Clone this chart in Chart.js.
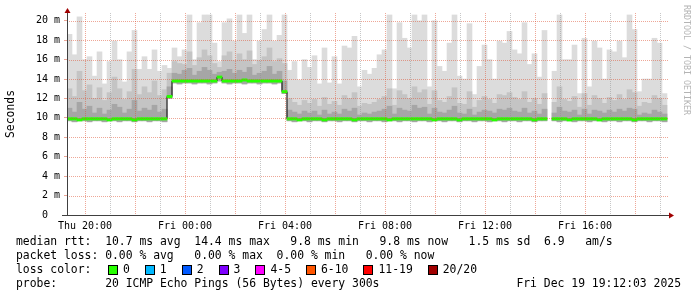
<!DOCTYPE html>
<html>
<head>
<meta charset="utf-8">
<script src="https://cdn.jsdelivr.net/npm/chart.js@4.4.1/dist/chart.umd.min.js"></script>
<style>
  body { margin: 0; background: #fff; }
  #wrap { position: relative; width: 697px; height: 297px; overflow: hidden; font-family: 'DejaVu Sans Mono', monospace; color: #000; }
  #graph { position: absolute; left: 0; top: 0; }
  .leg { position: absolute; font-size: 11.4px; line-height: 14px; white-space: pre; }
  .box { position: absolute; width: 8px; height: 8px; border: 1px solid #000; }
  .wm { position: absolute; left: 682px; top: 5px; writing-mode: vertical-rl; font-size: 8.3px; line-height: 9px; color: #b4b4b4; white-space: pre; }
</style>
</head>
<body>
<div id="wrap">
  <canvas id="graph" width="697" height="297"></canvas>
  <div class="wm">RRDTOOL / TOBI OETIKER</div>
  <div class="leg" style="left:16px;top:234px">median rtt:  10.7 ms avg  14.4 ms max   9.8 ms min   9.8 ms now   1.5 ms sd  6.9   am/s</div>
  <div class="leg" style="left:16px;top:248px">packet loss: 0.00 % avg   0.00 % max  0.00 % min   0.00 % now</div>
  <div class="leg" style="left:16px;top:262px">loss color:</div>
  <div id="losscolors"></div>
  <div class="leg" style="left:16px;top:276px">probe:       20 ICMP Echo Pings (56 Bytes) every 300s</div>
  <div class="leg" style="right:16px;top:276px">Fri Dec 19 19:12:03 2025</div>
</div>
<script>
// 24h of smokeping data, one bin every 12 minutes, values in ms
var startHour = 19.28;   // hours since Thu 00:00
var stepHours = 0.2;

var maxRtt = [
  18.6,16.5,20.4,16.0,16.3,14.3,16.8,13.5,15.8,17.9,16.0,13.7,16.8,19.0,15.0,16.3,15.0,17.0,14.8,15.4,
  15.1,
  17.2,16.3,17.0,20.6,16.0,19.8,20.6,20.6,17.7,15.8,19.8,20.2,17.9,20.6,18.7,20.6,16.0,17.9,19.1,20.6,17.9,18.5,
  20.6,
  14.9,15.8,13.9,16.0,
  15.2,16.4,13.5,17.2,13.6,16.3,13.5,17.4,17.2,18.4,13.2,14.9,14.5,15.1,16.5,17.0,20.6,13.0,19.8,18.2,17.2,20.6,20.0,20.6,
  13.2,20.0,15.3,14.8,17.7,20.6,14.3,14.0,19.7,12.4,15.3,17.5,16.0,14.0,17.9,17.7,18.9,17.0,16.6,19.8,15.5,16.6,14.2,19.0,
  null,
  14.8,20.6,16.0,16.0,17.5,12.5,18.2,13.2,17.9,17.2,14.0,17.0,16.8,17.9,16.2,20.6,19.1,12.7,14.0,14.0,18.2,17.7,12.5
];

var upperRtt = [
  13.0,12.2,14.8,12.8,13.4,12.0,13.1,11.8,12.6,14.2,13.0,11.9,12.7,15.0,12.4,13.2,12.6,13.8,12.3,12.9,
  14.6,
  15.8,15.6,15.5,16.8,15.4,16.2,17.0,16.4,15.6,15.2,16.4,16.8,15.9,16.6,16.0,16.9,15.5,15.9,16.3,17.2,15.8,16.1,
  15.6,
  12.0,11.6,11.3,11.8,
  11.5,11.9,11.2,12.1,11.4,11.7,11.3,12.3,12.0,12.6,11.2,11.5,11.4,11.6,11.9,12.2,13.0,11.3,12.8,12.4,12.0,13.2,12.6,12.9,
  11.4,12.8,11.8,11.6,12.2,13.1,11.5,11.4,12.7,11.1,11.8,12.2,11.9,11.5,12.4,12.3,12.6,12.1,11.9,12.7,11.6,12.0,11.4,12.5,
  null,
  11.6,13.2,11.9,11.7,12.2,11.1,12.5,11.3,12.3,12.0,11.5,12.1,11.8,12.4,11.9,12.9,12.6,11.2,11.6,11.5,12.3,12.0,11.3
];

var lowerRtt = [
  11.0,10.6,11.6,10.9,11.2,10.5,11.0,10.4,10.8,11.4,11.1,10.5,10.9,11.8,10.7,11.0,10.8,11.3,10.6,10.9,
  13.2,
  14.6,14.5,14.9,15.1,14.4,14.8,15.2,14.9,14.5,14.7,14.8,15.0,14.6,14.9,14.7,15.2,14.4,14.6,14.8,15.3,14.5,14.8,
  13.8,
  10.8,10.6,10.4,10.7,
  10.5,10.7,10.3,10.8,10.4,10.6,10.4,10.9,10.7,11.0,10.3,10.5,10.4,10.6,10.7,10.9,11.2,10.4,11.0,10.8,10.7,11.3,11.0,11.1,
  10.4,11.0,10.6,10.5,10.8,11.2,10.5,10.4,10.9,10.3,10.6,10.8,10.7,10.5,10.9,10.8,11.0,10.7,10.6,11.0,10.5,10.7,10.4,10.9,
  null,
  10.5,11.1,10.7,10.6,10.8,10.3,10.9,10.4,10.8,10.7,10.5,10.8,10.6,10.9,10.7,11.0,10.9,10.3,10.5,10.4,10.8,10.6,10.4
];

var minRtt = [
  9.7,9.6,9.7,9.7,9.6,9.7,9.7,9.6,9.7,9.7,9.6,9.7,9.7,9.6,9.7,9.7,9.6,9.7,9.7,9.6,
  12.0,
  13.6,13.5,13.6,13.6,13.5,13.6,13.6,13.5,13.6,13.8,13.6,13.5,13.6,13.6,13.5,13.6,13.6,13.5,13.6,13.6,13.5,13.6,
  12.5,
  9.7,9.6,9.7,9.7,
  9.6,9.7,9.7,9.6,9.7,9.7,9.6,9.7,9.7,9.6,9.7,9.7,9.6,9.7,9.7,9.6,9.7,9.7,9.6,9.7,9.7,9.6,9.7,9.7,
  9.6,9.7,9.7,9.6,9.7,9.7,9.6,9.7,9.7,9.6,9.7,9.7,9.6,9.7,9.7,9.6,9.7,9.7,9.6,9.7,9.7,9.6,9.7,9.7,
  null,
  9.7,9.6,9.7,9.7,9.6,9.7,9.7,9.6,9.7,9.7,9.6,9.7,9.7,9.6,9.7,9.7,9.6,9.7,9.7,9.6,9.7,9.7,9.6
];

var medianRtt = [
  9.9,9.9,9.8,9.9,9.9,9.9,9.9,9.9,9.8,9.9,9.9,9.9,9.9,9.8,9.9,9.9,9.9,9.9,9.9,9.9,
  12.2,
  13.8,13.8,13.8,13.8,13.8,13.8,13.8,13.8,13.8,14.2,13.8,13.8,13.8,13.8,13.9,13.8,13.8,13.8,13.8,13.8,13.8,13.8,
  12.7,
  9.9,9.9,9.8,9.9,
  9.9,9.9,9.9,9.8,9.9,9.9,9.9,9.9,9.9,9.8,9.9,9.9,9.9,9.9,9.9,9.9,9.8,9.9,9.9,9.9,9.9,9.9,9.9,9.9,
  9.9,9.8,9.9,9.9,9.9,9.9,9.8,9.9,9.9,9.9,9.9,9.9,9.9,9.8,9.9,9.9,9.9,9.9,9.9,9.9,9.9,9.8,9.9,9.9,
  null,
  9.9,9.9,9.9,9.8,9.9,9.9,9.9,9.9,9.9,9.8,9.9,9.9,9.9,9.9,9.9,9.9,9.8,9.9,9.9,9.9,9.9,9.9,9.9
];

var lossLabels = ['0', '1', '2', '3', '4-5', '6-10', '11-19', '20/20'];
var lossColors = ['#26ff00', '#00b8ff', '#0059ff', '#7e00ff', '#ff00ff', '#ff5500', '#ff0000', '#a10000'];

var times = maxRtt.map(function (v, i) { return startHour + stepHours * (i + 0.5); });

function band(lo, hi) {
  return times.map(function (t, i) {
    if (lo[i] == null || hi[i] == null) return {x: t, y: null};
    return {x: t, y: [lo[i], hi[i]]};
  });
}

// green median marker, ~2px thick
var medianBand = times.map(function (t, i) {
  if (medianRtt[i] == null) return {x: t, y: null};
  return {x: t, y: [medianRtt[i] - 0.12, medianRtt[i] + 0.12]};
});

function hourLabel(v) {
  if (v % 4 !== 0) return '';
  var day = v < 24 ? 'Thu' : 'Fri';
  var h = v % 24;
  return day + ' ' + (h < 10 ? '0' : '') + h + ':00';
}

var minorGrid = 'rgba(143,143,143,0.5)';
var majorGrid = 'rgba(222,80,48,0.5)';
var monoFont = "'DejaVu Sans Mono', monospace";

// rrdtool style dotted grid, drawn over the smoke
var dottedGrid = {
  id: 'dottedGrid',
  afterDatasetsDraw: function (chart) {
    var c = chart.ctx, a = chart.chartArea;
    var xs = chart.scales.x, ys = chart.scales.y;
    c.save();
    c.lineWidth = 1;
    c.setLineDash([1, 1]);
    xs.ticks.forEach(function (t) {
      var px = Math.round(xs.getPixelForValue(t.value)) + 0.5;
      c.strokeStyle = t.value % 2 === 0 ? majorGrid : minorGrid;
      c.beginPath(); c.moveTo(px, a.top); c.lineTo(px, a.bottom); c.stroke();
    });
    ys.ticks.forEach(function (t) {
      var py = Math.round(ys.getPixelForValue(t.value)) + 0.5;
      c.strokeStyle = t.value % 2 === 0 ? majorGrid : minorGrid;
      c.beginPath(); c.moveTo(a.left, py); c.lineTo(a.right, py); c.stroke();
    });
    c.restore();
  }
};

var axisArrows = {
  id: 'axisArrows',
  afterDraw: function (chart) {
    var ctx = chart.ctx, a = chart.chartArea;
    ctx.save();
    ctx.strokeStyle = '#404040';
    ctx.lineWidth = 1;
    ctx.beginPath();
    ctx.moveTo(a.left + 0.5, a.top);
    ctx.lineTo(a.left + 0.5, a.top - 3);
    ctx.moveTo(a.left - 5, a.bottom + 0.5);
    ctx.lineTo(a.left, a.bottom + 0.5);
    ctx.moveTo(a.right, a.bottom + 0.5);
    ctx.lineTo(a.right + 2, a.bottom + 0.5);
    ctx.stroke();
    ctx.fillStyle = '#a00000';
    ctx.beginPath();
    ctx.moveTo(a.left + 0.5, a.top - 5);
    ctx.lineTo(a.left - 2.5, a.top);
    ctx.lineTo(a.left + 3.5, a.top);
    ctx.closePath();
    ctx.fill();
    ctx.beginPath();
    ctx.moveTo(a.right + 6, a.bottom + 0.5);
    ctx.lineTo(a.right + 1, a.bottom - 2.5);
    ctx.lineTo(a.right + 1, a.bottom + 3.5);
    ctx.closePath();
    ctx.fill();
    ctx.restore();
  }
};

var barOpts = {type: 'bar', grouped: false, barPercentage: 1, categoryPercentage: 1, borderWidth: 0};

var ctx = document.getElementById('graph').getContext('2d');
var chart = new Chart(ctx, {
  type: 'bar',
  data: {
    datasets: [
      Object.assign({label: 'median', data: medianBand, backgroundColor: lossColors[0], order: 0}, barOpts),
      {type: 'line', label: 'median line', data: times.map(function (t, i) { return {x: t, y: medianRtt[i]}; }),
       borderColor: '#000', borderWidth: 1, pointRadius: 0, stepped: 'middle', order: 1},
      Object.assign({label: 'smoke low', data: band(minRtt, lowerRtt), backgroundColor: '#a6a6a6', order: 2}, barOpts),
      Object.assign({label: 'smoke mid', data: band(minRtt, upperRtt), backgroundColor: '#c4c4c4', order: 3}, barOpts),
      Object.assign({label: 'smoke max', data: band(minRtt, maxRtt), backgroundColor: '#dcdcdc', order: 4}, barOpts)
    ]
  },
  options: {
    responsive: false,
    animation: false,
    devicePixelRatio: 1,
    layout: {padding: {left: 0, top: 13, right: 29, bottom: 60}},
    plugins: {legend: {display: false}, tooltip: {enabled: false}},
    scales: {
      x: {
        type: 'linear', min: 19.28, max: 43.32, offset: false,
        afterFit: function (s) { s.height = 22; },
        ticks: {stepSize: 1, autoSkip: false, maxRotation: 0, includeBounds: false, padding: 5,
                color: '#000', font: {family: monoFont, size: 10}, callback: hourLabel},
        grid: {offset: false, drawOnChartArea: false, drawTicks: false},
        border: {color: '#404040', z: 2}
      },
      y: {
        min: 0, max: 20.8,
        afterFit: function (s) { s.width = 67; },
        ticks: {stepSize: 1, includeBounds: false, padding: 4, color: '#000', font: {family: monoFont, size: 10},
                callback: function (v) { return v % 2 !== 0 ? '' : (v === 0 ? '0  ' : v + ' m'); }},
        grid: {drawOnChartArea: false, tickLength: 3,
               tickColor: function (c) { return c.tick && c.tick.value % 2 === 0 ? majorGrid : minorGrid; }},
        border: {color: '#404040', z: 2},
        title: {display: true, text: 'Seconds', color: '#000', font: {family: monoFont, size: 11.4}, padding: {top: 4, bottom: 0}}
      }
    }
  },
  plugins: [dottedGrid, axisArrows]
});

// loss colour legend boxes
var lc = document.getElementById('losscolors');
var x = 108;
lossLabels.forEach(function (lab, i) {
  var b = document.createElement('div');
  b.className = 'box';
  b.style.left = x + 'px';
  b.style.top = '265px';
  b.style.background = lossColors[i];
  lc.appendChild(b);
  var t = document.createElement('div');
  t.className = 'leg';
  t.style.left = (x + 15) + 'px';
  t.style.top = '262px';
  t.textContent = lab;
  lc.appendChild(t);
  x += 15 + lab.length * 6.86 + 15;
});
</script>
</body>
</html>
